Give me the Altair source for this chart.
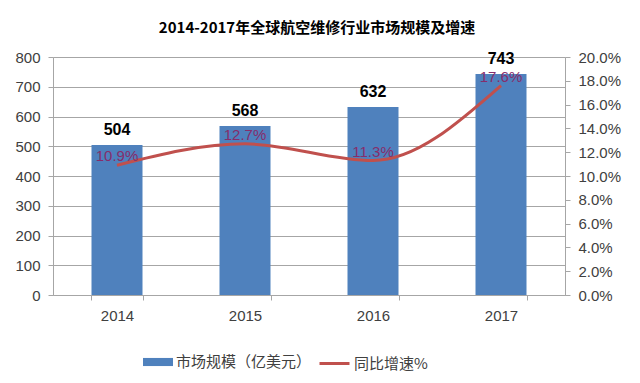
import altair as alt
import pandas as pd

years = ["2014", "2015", "2016", "2017"]
market = [504, 568, 632, 743]
growth = [0.109, 0.127, 0.113, 0.176]
growth_labels = ["10.9%", "12.7%", "11.3%", "17.6%"]
bar_name = "市场规模（亿美元）"
line_name = "同比增速%"

df = pd.DataFrame({
    "year": years,
    "market": market,
    "growth": growth,
    "glabel": growth_labels,
    "s1": [bar_name] * 4,
    "s2": [line_name] * 4,
})

FONT = "Noto Sans CJK SC"
AXFONT = "Liberation Sans"
GRAY = "#a6a6a6"

xenc = alt.X("year:N", title=None, sort=years,
             scale=alt.Scale(paddingInner=0.6, paddingOuter=0.3),
             axis=alt.Axis(labelAngle=0, labelFontSize=15, labelColor="#404040",
                           labelFont=AXFONT, labelPadding=8,
                           domainColor=GRAY, tickColor=GRAY, tickBand="extent",
                           tickSize=5, grid=False))

yleft = alt.Y("market:Q", title=None,
              scale=alt.Scale(domain=[0, 800]),
              axis=alt.Axis(values=list(range(0, 801, 100)), labelFontSize=15,
                            labelColor="#404040", labelFont=AXFONT, labelOverlap=False,
                            domainColor=GRAY, tickColor=GRAY, tickSize=5,
                            labelPadding=8, grid=True, gridColor=GRAY, gridWidth=1))

yright = alt.Y("growth:Q", title=None,
               scale=alt.Scale(domain=[0, 0.2]),
               axis=alt.Axis(orient="right", values=[i / 100 for i in range(0, 21, 2)],
                             format=".1%", labelFontSize=15, labelColor="#404040",
                             labelFont=AXFONT, labelOverlap=False, domainColor=GRAY,
                             tickColor=GRAY, tickSize=5, labelPadding=8, grid=False))

base_l = alt.Chart(df).encode(x=xenc, y=yleft)
base_r = alt.Chart(df).encode(x=xenc, y=yright)

bars = base_l.mark_bar(size=51).encode(
    fill=alt.Fill("s1:N", scale=alt.Scale(domain=[bar_name], range=["#4f81bd"]),
                  legend=alt.Legend(title=None, orient="none", legendX=90, legendY=290,
                                    symbolType="M-1,-0.27L1,-0.27L1,0.27L-1,0.27Z",
                                    symbolSize=900, symbolStrokeWidth=0,
                                    labelFont=FONT, labelFontSize=15, labelColor="#404040",
                                    labelOffset=3)),
)

bar_text = base_l.mark_text(dy=-15, fontSize=16, fontWeight="bold",
                            font=AXFONT, color="#000000").encode(text="market:Q")

line = base_r.mark_line(strokeWidth=3, interpolate="monotone").encode(
    stroke=alt.Stroke("s2:N", scale=alt.Scale(domain=[line_name], range=["#c0504d"]),
                      legend=alt.Legend(title=None, orient="none", legendX=265, legendY=290,
                                        symbolType="stroke", symbolSize=900,
                                        symbolStrokeWidth=3,
                                        labelFont=FONT, labelFontSize=15, labelColor="#404040",
                                        labelOffset=3)),
)

line_text = base_r.mark_text(dy=-9, fontSize=15, font=AXFONT,
                             color="#862d6b").encode(text="glabel:N")

left = alt.layer(bars, bar_text)
right = alt.layer(line, line_text)

chart = alt.layer(left, right).resolve_scale(y="independent").properties(
    width=512, height=238,
    autosize=alt.AutoSizeParams(type="none"),
    padding={"left": 45, "top": 49, "right": 60, "bottom": 80},
    title=alt.TitleParams("2014-2017年全球航空维修行业市场规模及增速", font=FONT,
                          fontSize=15, fontWeight="bold", color="#000000",
                          anchor="middle", offset=14, dx=8),
).configure_view(stroke=None).configure(background="white")

chart.save("out.html", embed_options={"renderer": "svg", "actions": False})
